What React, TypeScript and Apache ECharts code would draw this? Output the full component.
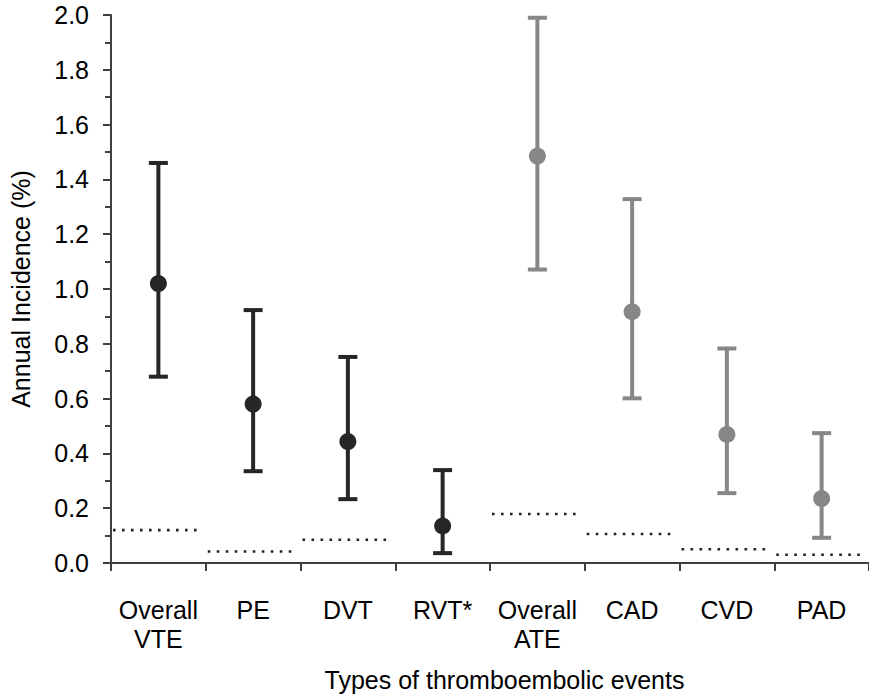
import React, { useEffect, useRef } from "react";
import * as echarts from "echarts";

const categories = ["Overall\nVTE", "PE", "DVT", "RVT*", "Overall\nATE", "CAD", "CVD", "PAD"];
const estimates = [1.02, 0.58, 0.443, 0.135, 1.485, 0.917, 0.469, 0.235];
const lowerCI = [0.68, 0.335, 0.233, 0.036, 1.071, 0.601, 0.255, 0.092];
const upperCI = [1.46, 0.923, 0.752, 0.339, 1.99, 1.328, 0.783, 0.474];
const backgroundRates: (number | null)[] = [0.12, 0.042, 0.085, null, 0.179, 0.106, 0.05, 0.03];
const groups = ["venous", "venous", "venous", "venous", "arterial", "arterial", "arterial", "arterial"];
const yTicks = [0, 0.2, 0.4, 0.6, 0.8, 1.0, 1.2, 1.4, 1.6, 1.8, 2.0];

const DARK = "#262626";
const GRAY = "#878787";
const FONT = "Liberation Sans, Arial, sans-serif";

export default function App() {
  const ref = useRef<HTMLDivElement>(null);
  useEffect(() => {
    document.body.style.margin = "0";
    if (!ref.current) return;
    const chart = echarts.init(ref.current, null, { renderer: "svg" });
    const colorOf = (i: number) => (groups[i] === "venous" ? DARK : GRAY);

    chart.setOption({
      animation: false,
      grid: { left: 110, top: 15, bottom: 131, width: 763 },
      xAxis: {
        type: "category",
        data: categories,
        boundaryGap: true,
        name: "Types of thromboembolic events",
        nameLocation: "middle",
        nameGap: 104,
        nameTextStyle: { fontSize: 25, color: "#000", fontFamily: FONT, padding: [0, 0, 0, 29] },
        axisLine: { show: true, lineStyle: { color: "#404040", width: 2 } },
        axisTick: { show: true, interval: 0, length: 8, lineStyle: { color: "#404040", width: 2 } },
        axisLabel: {
          interval: 0,
          margin: 32,
          fontSize: 25,
          lineHeight: 29,
          color: "#000",
          fontFamily: FONT,
        },
        splitLine: { show: false },
      },
      yAxis: {
        type: "value",
        min: yTicks[0],
        max: yTicks[yTicks.length - 1],
        interval: 0.2,
        name: "Annual Incidence (%)",
        nameLocation: "middle",
        nameGap: 78,
        nameTextStyle: { fontSize: 25, color: "#000", fontFamily: FONT },
        axisLine: { show: true, lineStyle: { color: "#404040", width: 2 } },
        axisTick: { show: true, length: 8, lineStyle: { color: "#404040", width: 2 } },
        minorTick: { show: true, splitNumber: 2, length: 6, lineStyle: { color: "#404040", width: 2 } },
        axisLabel: {
          margin: 22,
          fontSize: 25,
          color: "#000",
          fontFamily: FONT,
          formatter: (v: number) => v.toFixed(1),
        },
        splitLine: { show: false },
      },
      series: [
        {
          type: "custom",
          name: "Background rate",
          data: backgroundRates.map((v, i) => (v == null ? null : [i, v])).filter((d) => d != null),
          z: 1,
          renderItem: (params: any, api: any) => {
            const idx = api.value(0);
            const val = api.value(1);
            const p = api.coord([idx, val]);
            const band = api.size([1, 0])[0];
            return {
              type: "line",
              shape: { x1: p[0] - band / 2 + 2, y1: p[1], x2: p[0] + band / 2 - 3, y2: p[1] },
              style: { stroke: "#222", lineWidth: 2.6, lineDash: [2.6, 6.4] },
            };
          },
        },
        {
          type: "custom",
          name: "95% CI",
          data: categories.map((_, i) => [i, lowerCI[i], upperCI[i]]),
          z: 2,
          renderItem: (params: any, api: any) => {
            const idx = api.value(0);
            const lo = api.coord([idx, api.value(1)]);
            const hi = api.coord([idx, api.value(2)]);
            const c = colorOf(params.dataIndex);
            const half = 9.5;
            const style = { stroke: c, lineWidth: 4 };
            return {
              type: "group",
              children: [
                { type: "line", shape: { x1: lo[0], y1: lo[1], x2: hi[0], y2: hi[1] }, style },
                { type: "line", shape: { x1: hi[0] - half, y1: hi[1], x2: hi[0] + half, y2: hi[1] }, style },
                { type: "line", shape: { x1: lo[0] - half, y1: lo[1], x2: lo[0] + half, y2: lo[1] }, style },
              ],
            };
          },
        },
        {
          type: "scatter",
          name: "Estimate",
          z: 3,
          symbol: "circle",
          symbolSize: 17,
          itemStyle: { opacity: 1 },
          data: estimates.map((v, i) => ({ value: [i, v], itemStyle: { color: colorOf(i), opacity: 1 } })),
        },
      ],
    });
    return () => chart.dispose();
  }, []);
  return <div ref={ref} style={{ width: 869, height: 697 }} />;
}
